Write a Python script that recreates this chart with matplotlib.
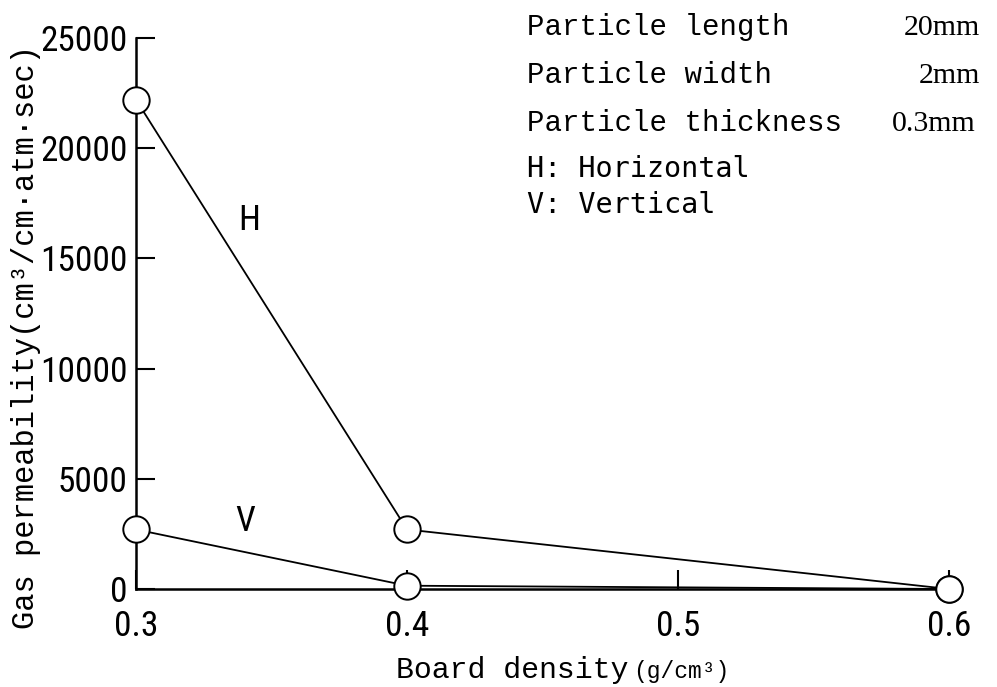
import matplotlib
matplotlib.use("Agg")
import matplotlib.pyplot as plt
from matplotlib import font_manager
from matplotlib.font_manager import FontProperties

# ---- data ----
density = [0.3, 0.4, 0.6]
horizontal = [22200, 2700, 0]
vertical = [2700, 150, 0]
x_ticks = [0.3, 0.4, 0.5, 0.6]
x_tick_labels = ["0.3", "0.4", "0.5", "0.6"]
y_ticks = [0, 5000, 10000, 15000, 20000, 25000]
y_tick_labels = ["0", "5000", "10000", "15000", "20000", "25000"]
info_names = ["Particle length", "Particle width", "Particle thickness"]
info_values = ["20mm", "2mm", "0.3mm"]
legend_lines = ["H: Horizontal", "V: Vertical"]

# ---- pick the narrowest sans available for the numbers ----
ttf = font_manager.fontManager.ttflist
names = {f.name for f in ttf}
num_fp = None
num_size = 21
for cand, size in [("Liberation Sans Narrow", 24), ("Roboto Condensed", 25.5),
                   ("Open Sans Condensed", 24)]:
    if cand in names:
        num_fp = FontProperties(family=cand)
        num_size = size
        break
if num_fp is None:
    cond = [f for f in ttf if f.name == "DejaVu Sans" and "Condensed" in f.fname
            and "Bold" not in f.fname and "Oblique" not in f.fname]
    if cond:
        num_fp = FontProperties(fname=cond[0].fname)
        num_size = 20
    else:
        num_fp = FontProperties(family="Liberation Sans")
        num_size = 20

mono = "Liberation Mono"
serif = "Liberation Serif"
sansmono = "DejaVu Sans Mono"

W, H = 997, 687
fig = plt.figure(figsize=(W / 100, H / 100), dpi=100)
L, R, B, T = 136, 949, 589, 38
ax = fig.add_axes([L / W, 1 - B / H, (R - L) / W, (B - T) / H])

mk = dict(marker="o", markersize=19, markerfacecolor="white",
          markeredgecolor="black", markeredgewidth=1.4, clip_on=False,
          color="black", linewidth=1.3)
ax.plot(density, horizontal, zorder=3, **mk)
ax.plot(density, vertical, zorder=3, **mk)

ax.set_xlim(0.3, 0.6)
ax.set_ylim(0, 25000)
for s in ["top", "right"]:
    ax.spines[s].set_visible(False)
for s in ["left", "bottom"]:
    ax.spines[s].set_linewidth(1.8)
ax.set_xticks(x_ticks)
ax.set_xticklabels(x_tick_labels)
ax.set_yticks(y_ticks)
ax.set_yticklabels(y_tick_labels)
ax.tick_params(axis="both", direction="in", length=14, width=1.5, colors="black")
ax.tick_params(axis="x", pad=15)
ax.tick_params(axis="y", pad=6)
for lab in ax.get_xticklabels() + ax.get_yticklabels():
    lab.set_fontproperties(num_fp)
    lab.set_fontsize(num_size)

fpH = num_fp.copy()
fpH.set_size(num_size)
ax.text(0.3417, 16742, "H", fontproperties=fpH, ha="center", va="center")
ax.text(0.3402, 3040, "V", fontproperties=fpH, ha="center", va="center")

def fx(px):
    return px / W

def fy(py):
    return 1 - py / H

fig.text(fx(26), fy(337), "Gas permeability(cm³/cm·atm·sec)", family=mono,
         fontsize=22, rotation=90, ha="center", va="center")
fig.text(fx(396), fy(678), "Board density", family=mono, fontsize=21.5,
         ha="left", va="baseline")
fig.text(fx(633), fy(678), "(g/cm³)", family=mono, fontsize=16.5,
         ha="left", va="baseline")

baselines = [35, 83, 131]
rights = [980, 980, 976]
for name, val, by, rx in zip(info_names, info_values, baselines, rights):
    fig.text(fx(527), fy(by), name, family=mono, fontsize=21, ha="left", va="baseline")
    fig.text(fx(rx), fy(by), val, family=serif, fontsize=21.5, ha="right", va="baseline")
for line, by in zip(legend_lines, [177, 213]):
    fig.text(fx(527), fy(by), line, family=sansmono, fontsize=20.5, ha="left", va="baseline")

fig.savefig("out.png", dpi=100, facecolor="white")
